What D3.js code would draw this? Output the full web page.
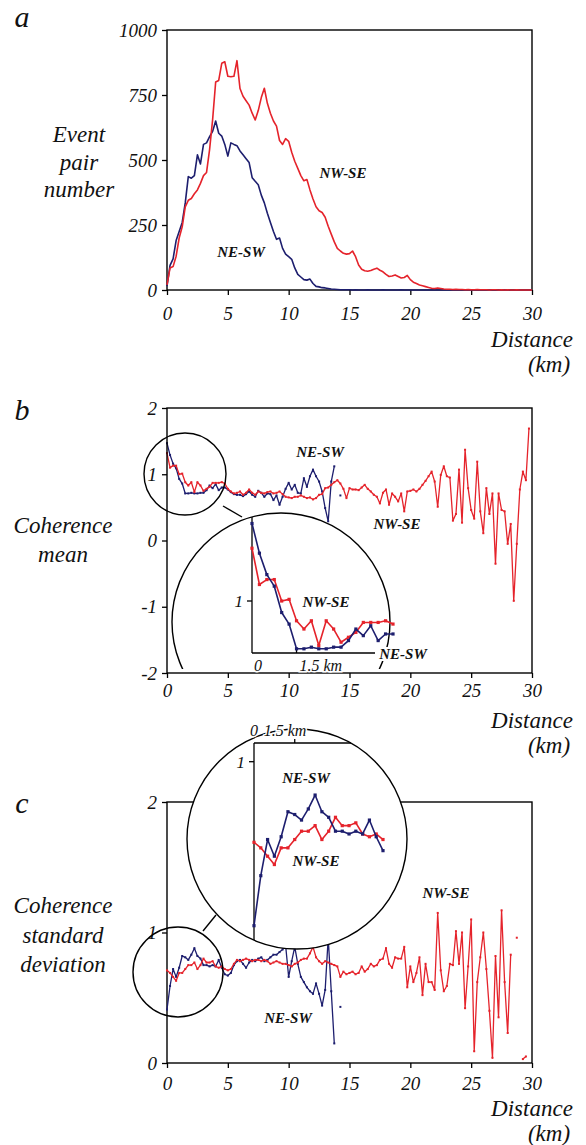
<!DOCTYPE html>
<html>
<head>
<meta charset="utf-8">
<script src="https://cdn.jsdelivr.net/npm/d3@7"></script>
<style>
  html, body { margin: 0; padding: 0; background: #fff; }
  svg { display: block; }
</style>
</head>
<body>
<svg id="fig" width="586" height="1145"></svg>
<script>
// Distance bins are 0.25 km wide; value i belongs to distance i * BIN.
const BIN = 0.25;

// a — event pair number per distance bin
const pairsNWSE = [
  20, 85, 90, 130, 200, 243, 320, 345, 352, 370,
  385, 410, 440, 452, 540, 655, 800, 806, 872, 878,
  822, 820, 822, 882, 775, 745, 728, 711, 680, 654,
  690, 740, 776, 718, 680, 650, 630, 575, 560, 582,
  572, 530, 495, 468, 440, 420, 425, 385, 350, 320,
  305, 298, 280, 245, 215, 185, 160, 150, 141, 138,
  140, 150, 128, 96, 80, 74, 72, 75, 80, 84,
  76, 70, 60, 52, 54, 58, 52, 46, 48, 56,
  40, 30, 25, 19, 16, 13, 10, 7, 6, 8,
  6, 4, 3, 3, 2, 3, 2, 2, 1, 2,
  1, 1, 2, 1, 1, 1, 0, 1, 1, 0,
  1, 0, 1, 0, 0, 1, 0, 0, 0, 0,
  0
];
const pairsNESW = [
  15, 95, 120, 190, 225, 260, 335, 436, 430, 440,
  520, 485, 560, 566, 590, 610, 650, 603, 592, 560,
  515, 566, 560, 555, 535, 520, 505, 490, 432, 418,
  405, 365, 335, 295, 260, 225, 195, 200, 160, 138,
  128, 118, 85, 60, 50, 40, 38, 42, 25, 14,
  12, 9, 8, 6, 4, 3, 2, 1, 1, 1,
  1, 0, 1, 0, 0, 0, 1, 0, 0, 0,
  0, 1, 0, 0, 0, 0, 0, 1, 0, 0,
  0, 0, 0, 0, 0, 0, 0, 0, 0, 0,
  0, 0, 0, 0, 0, 0, 0, 0, 0, 0,
  0, 0, 0, 0, 0, 0, 0, 0, 0, 0,
  0, 0, 0, 0, 0, 0, 0, 0, 0, 0,
  0
];

// b — coherence mean
const meanNWSE = [
  1.32, 1.10, 1.13, 1.13, 1.00, 1.01, 0.88, 0.83, 0.88, 0.73,
  0.88, 0.83, 0.75, 0.78, 0.81, 0.87, 0.87, 0.87, 0.88, 0.86,
  0.78, 0.74, 0.71, 0.72, 0.74, 0.69, 0.72, 0.77, 0.72, 0.69,
  0.74, 0.72, 0.71, 0.73, 0.74, 0.71, 0.72, 0.74, 0.70, 0.66,
  0.65, 0.64, 0.66, 0.66, 0.68, 0.66, 0.64, 0.65, 0.62, 0.64,
  0.69, 0.70, 0.79, 0.80, 0.84, 0.88, 0.91, 0.86, 0.78, 0.64,
  0.79, 0.77, 0.77, 0.76, 0.80, 0.84, 0.78, 0.74, 0.69, 0.66,
  0.56, 0.72, 0.77, 0.54, 0.71, 0.66, 0.59, 0.71, 0.44, 0.74,
  0.75, 0.77, 0.74, 0.78, 0.84, 0.90, 0.97, 1.04, 0.89, 0.51,
  0.99, 1.12, 0.97, 0.95, 0.30, 0.40, 1.07, 0.27, 1.37, 0.79,
  0.46, 0.33, 1.19, 0.44, 0.11, 0.79, 0.40, 0.71, -0.35, 0.71,
  0.46, 0.44, -0.05, 0.25, -0.91, -0.05, 0.77, 1.04, 0.91, 1.69
];
const meanNESW = [
  1.47, 1.29, 1.16, 1.09, 0.93, 0.86, 0.71, 0.71, 0.72, 0.71,
  0.71, 0.72, 0.72, 0.76, 0.83, 0.79, 0.85, 0.76, 0.80, 0.80,
  0.77, 0.73, 0.70, 0.69, 0.69, 0.67, 0.70, 0.74, 0.69, 0.66,
  0.75, 0.72, 0.66, 0.71, 0.70, 0.61, 0.68, 0.54, 0.66, 0.78,
  0.87, 0.77, 0.84, 0.72, 0.71, 0.94, 0.81, 0.97, 1.07, 0.97,
  0.89, 0.74, 0.49, 0.29, 0.89, 1.12, null, 0.68
];

// c — coherence standard deviation
const sdNWSE = [
  0.71, 0.69, 0.66, 0.63, 0.69, 0.69, 0.72, 0.75, 0.75, 0.77,
  0.72, 0.75, 0.80, 0.77, 0.77, 0.78, 0.74, 0.73, 0.74, 0.72,
  0.71, 0.72, 0.76, 0.79, 0.78, 0.79, 0.80, 0.79, 0.78, 0.79,
  0.79, 0.78, 0.79, 0.78, 0.76, 0.77, 0.78, 0.77, 0.76, 0.76,
  0.75, 0.74, 0.76, 0.77, 0.79, 0.80, 0.80, 0.84, 0.89, 0.81,
  0.78, 0.76, 0.78, 0.77, 0.76, 0.75, 0.74, 0.66, 0.70, 0.68,
  0.69, 0.70, 0.68, 0.69, 0.74, 0.70, 0.72, 0.76, 0.74, 0.75,
  0.79, 0.80, 0.88, 0.76, 0.73, 0.81, 0.80, 0.80, 0.89, 0.58,
  0.74, 0.62, 0.69, 0.81, 0.52, 0.76, 0.62, 0.62, 0.56, 1.15,
  0.71, 0.55, 0.59, 0.76, 0.75, 1.01, 0.76, 1.00, 0.42, 0.74,
  1.10, 0.09, 0.62, 0.81, 1.00, 0.72, 0.40, 0.04, 0.82, 0.35,
  1.17, 0.62, 0.23, 0.83, null, 0.96, null, 0.03, 0.05, null
];
const sdNESW = [
  0.41, 0.59, 0.72, 0.66, 0.73, 0.82, 0.81, 0.79, 0.83, 0.88,
  0.82, 0.80, 0.75, 0.75, 0.74, 0.75, 0.74, 0.79, 0.73, 0.68,
  0.67, 0.69, 0.75, 0.78, 0.79, 0.76, 0.73, 0.77, 0.79, 0.78,
  0.80, 0.81, 0.78, 0.79, 0.81, 0.83, 0.83, 0.85, 0.87, 0.90,
  0.66, 0.78, 0.89, 0.76, 0.66, 0.62, 0.58, 0.55, 0.53, 0.61,
  0.53, 0.44, 0.56, 0.96, 0.55, 0.15, null, 0.43
];

// Axis ticks
const distTicks = [0, 5, 10, 15, 20, 25, 30];
const pairTicks = [0, 250, 500, 750, 1000];
const meanTicks = [-2, -1, 0, 1, 2];
const sdTicks = [0, 1, 2];
const INSET_BINS = 20;   // the magnified view covers the first 20 bins (0–4.75 km)

const RED = "#e5232b";
const NAVY = "#1d1e6e";
const SERIF = "Liberation Serif";

const svg = d3.select("#fig");
const X0 = 167, X1 = 532;
const xMain = d3.scaleLinear().domain([0, 30]).range([X0, X1]);

function toPoints(values) {
  return values.map((v, i) => ({ d: i * BIN, v }));
}

function drawSeries(g, values, xs, ys, color, width, marker) {
  const pts = toPoints(values);
  const line = d3.line().defined(p => p.v != null).x(p => xs(p.d)).y(p => ys(p.v));
  g.append("path").datum(pts)
    .attr("d", line)
    .attr("fill", "none")
    .attr("stroke", color)
    .attr("stroke-width", width)
    .attr("stroke-linejoin", "round");
  if (marker) {
    g.append("g").selectAll("rect")
      .data(pts.filter(p => p.v != null))
      .join("rect")
      .attr("x", p => xs(p.d) - marker / 2)
      .attr("y", p => ys(p.v) - marker / 2)
      .attr("width", marker)
      .attr("height", marker)
      .attr("fill", color);
  }
}

function styleAxis(sel, size) {
  sel.attr("font-family", SERIF).attr("font-size", size);
  sel.selectAll("text")
    .attr("font-family", SERIF)
    .attr("font-style", "italic")
    .attr("font-size", size)
    .attr("fill", "#111");
  sel.selectAll("line").attr("stroke", "#000").attr("stroke-width", 1.3);
}

function frame(g, ys, ticks, top, bottom, xPad) {
  g.append("rect")
    .attr("x", X0).attr("y", top)
    .attr("width", X1 - X0).attr("height", bottom - top)
    .attr("fill", "none").attr("stroke", "#000").attr("stroke-width", 1.4);
  g.append("g")
    .attr("transform", `translate(${X0},0)`)
    .call(d3.axisLeft(ys).tickValues(ticks).tickSize(5).tickPadding(5).tickFormat(d => String(d)))
    .call(a => a.select(".domain").remove())
    .call(a => styleAxis(a, 19));
  g.append("g")
    .attr("transform", `translate(0,${bottom})`)
    .call(d3.axisBottom(xMain).tickValues(distTicks).tickSize(5).tickPadding(xPad).tickFormat(d3.format("d")))
    .call(a => a.select(".domain").remove())
    .call(a => styleAxis(a, 19));
}

function text(g, str, x, y, opts = {}) {
  const t = g.append("text")
    .attr("x", x).attr("y", y)
    .attr("font-family", SERIF)
    .attr("font-style", "italic")
    .attr("font-weight", opts.bold ? "bold" : "normal")
    .attr("font-size", opts.size || 20)
    .attr("text-anchor", opts.anchor || "middle")
    .attr("fill", opts.color || "#111")
    .text(str);
  if (opts.halo) {
    t.attr("stroke", "#fff").attr("stroke-width", opts.halo).attr("paint-order", "stroke");
  }
  return t;
}

function titleLines(g, lines, x, y0, step) {
  lines.forEach((s, i) => text(g, s, x, y0 + i * step, { size: 23 }));
}

function distanceLabel(g, y) {
  text(g, "Distance", 532, y, { size: 23 });
  text(g, "(km)", 549, y + 25, { size: 23 });
}

function circle(g, c, fill) {
  return g.append("circle")
    .attr("cx", c.cx).attr("cy", c.cy).attr("r", c.r)
    .attr("fill", fill || "none")
    .attr("stroke", "#000").attr("stroke-width", 1.4);
}

function connector(g, p) {
  g.append("line")
    .attr("x1", p[0]).attr("y1", p[1]).attr("x2", p[2]).attr("y2", p[3])
    .attr("stroke", "#000").attr("stroke-width", 1.4);
}

// Magnified view of the first kilometres, drawn inside a circle
function insetPlot(g, cfg) {
  const xs = d3.scaleLinear().domain([0, (INSET_BINS - 1) * BIN]).range(cfg.xRange);
  const ys = d3.scaleLinear().domain([1, cfg.yRef]).range([cfg.yOne, cfg.yRefPx]);
  const ax = cfg.axis;
  g.append("line").attr("x1", ax.x).attr("x2", ax.x).attr("y1", ax.vTop).attr("y2", ax.vBottom)
    .attr("stroke", "#000").attr("stroke-width", 1.3);
  g.append("line").attr("x1", ax.x).attr("x2", ax.hEnd).attr("y1", ax.hY).attr("y2", ax.hY)
    .attr("stroke", "#000").attr("stroke-width", 1.3);
  g.append("line").attr("x1", ax.x - 5).attr("x2", ax.x).attr("y1", ys(1)).attr("y2", ys(1))
    .attr("stroke", "#000").attr("stroke-width", 1.3);
  g.append("line").attr("x1", xs(1.5)).attr("x2", xs(1.5)).attr("y1", ax.hY).attr("y2", ax.hY - 4)
    .attr("stroke", "#000").attr("stroke-width", 1.3);
  text(g, "1", ax.x - 9, ys(1) + 6, { size: 17, anchor: "end" });
  drawSeries(g, cfg.red.slice(0, INSET_BINS), xs, ys, RED, 1.6, 3.2);
  drawSeries(g, cfg.navy.slice(0, INSET_BINS), xs, ys, NAVY, 1.6, 3.2);
  text(g, "0", xs(0) + ax.zeroDx, ax.labelY, { size: 16, halo: 3 });
  text(g, "1.5 km", xs(1.5) + ax.kmDx, ax.labelY, { size: 16, anchor: "start", halo: 3 });
}

// ---------- a ----------
const gA = svg.append("g");
const yA = d3.scaleLinear().domain([0, 1000]).range([290, 30]);
frame(gA, yA, pairTicks, 30, 290, 12);
drawSeries(gA, pairsNESW, xMain, yA, NAVY, 1.6);
drawSeries(gA, pairsNWSE, xMain, yA, RED, 1.6);
text(gA, "a", 22, 27, { size: 30 });
titleLines(gA, ["Event", "pair", "number"], 79, 142, 27.5);
text(gA, "NW-SE", 343, 178, { size: 15, bold: true });
text(gA, "NE-SW", 241, 257, { size: 15, bold: true });
distanceLabel(gA, 347);

// ---------- b ----------
const gB = svg.append("g");
const yB = d3.scaleLinear().domain([-2, 2]).range([673, 408]);
drawSeries(gB, meanNESW, xMain, yB, NAVY, 1.3, 2);
drawSeries(gB, meanNWSE, xMain, yB, RED, 1.3, 2);
circle(gB, { cx: 185, cy: 474, r: 41 });
connector(gB, [223, 506, 242, 517]);
svg.append("clipPath").attr("id", "clipB")
  .append("rect").attr("x", 0).attr("y", 0).attr("width", 586).attr("height", 669);
circle(gB.append("g").attr("clip-path", "url(#clipB)"), { cx: 281, cy: 622, r: 109 }, "#fff");
frame(gB, yB, meanTicks, 408, 673, 6);
insetPlot(gB, {
  red: meanNWSE, navy: meanNESW,
  xRange: [252, 393], yOne: 601, yRef: 1.47, yRefPx: 523.5,
  axis: { x: 252, vTop: 517, vBottom: 653, hY: 653, hEnd: 375, labelY: 671, zeroDx: 6, kmDx: 3 }
});
text(gB, "b", 22, 420, { size: 30 });
titleLines(gB, ["Coherence", "mean"], 63, 533, 29);
text(gB, "NE-SW", 320, 457, { size: 15, bold: true });
text(gB, "NW-SE", 397, 529, { size: 15, bold: true });
text(gB, "NW-SE", 326, 607, { size: 15, bold: true });
text(gB, "NE-SW", 403, 659, { size: 15, bold: true, halo: 4 });
distanceLabel(gB, 728);

// ---------- c ----------
const gC = svg.append("g");
const yC = d3.scaleLinear().domain([0, 2]).range([1063, 802]);
frame(gC, yC, sdTicks, 802, 1063, 9);
drawSeries(gC, sdNESW, xMain, yC, NAVY, 1.3, 2);
drawSeries(gC, sdNWSE, xMain, yC, RED, 1.3, 2);
circle(gC, { cx: 178, cy: 972, r: 45 });
connector(gC, [203, 931, 216, 915]);
circle(gC, { cx: 297, cy: 839, r: 110 }, "#fff");
insetPlot(gC, {
  red: sdNWSE, navy: sdNESW,
  xRange: [254, 383], yOne: 761.7, yRef: 0.41, yRefPx: 925.7,
  axis: { x: 254, vTop: 743, vBottom: 940, hY: 743, hEnd: 351, labelY: 736, zeroDx: 0, kmDx: -31 }
});
text(gC, "c", 22, 813, { size: 30 });
titleLines(gC, ["Coherence", "standard", "deviation"], 63, 913, 29.5);
text(gC, "NE-SW", 306, 783, { size: 15, bold: true });
text(gC, "NW-SE", 316, 866, { size: 15, bold: true });
text(gC, "NE-SW", 288, 1023, { size: 15, bold: true });
text(gC, "NW-SE", 446, 898, { size: 15, bold: true });
distanceLabel(gC, 1116);
</script>
</body>
</html>
